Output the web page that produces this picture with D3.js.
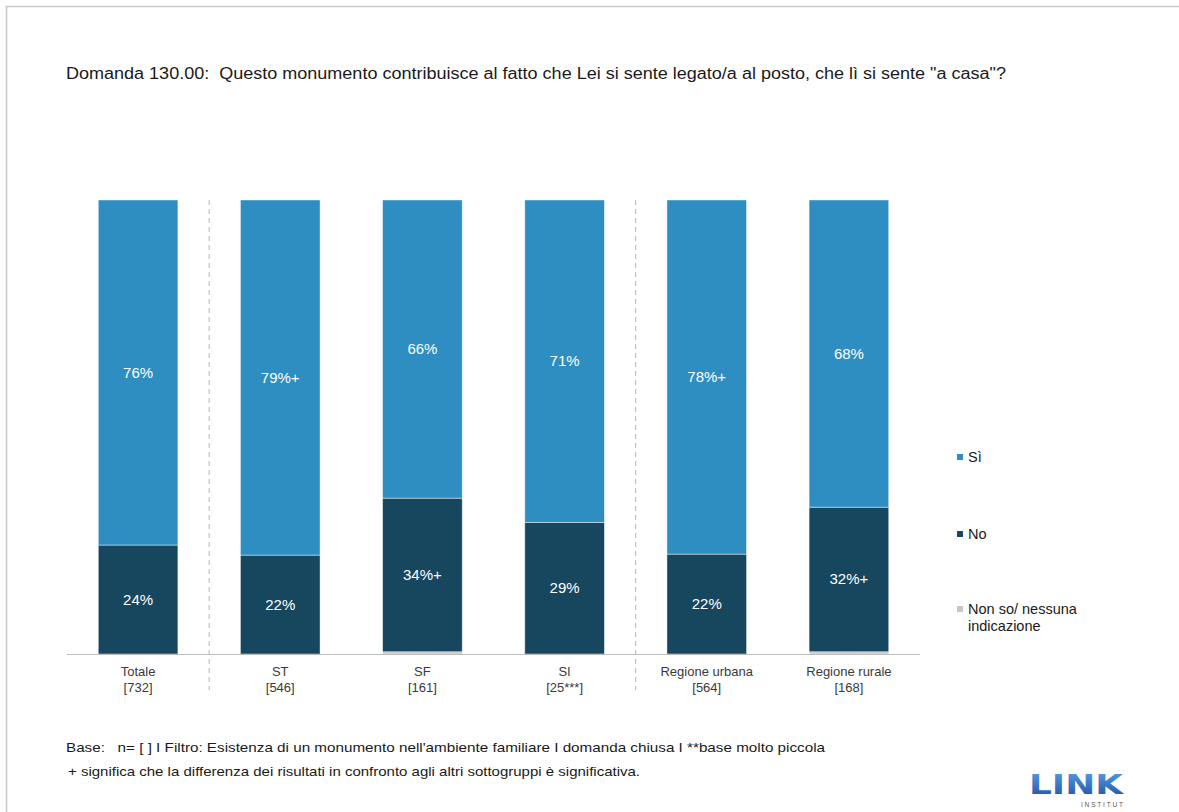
<!DOCTYPE html>
<html>
<head>
<meta charset="utf-8">
<script src="https://cdn.jsdelivr.net/npm/d3@7/dist/d3.min.js"></script>
<style>
  html, body { margin: 0; padding: 0; background: #fff; }
  svg { display: block; font-family: "Liberation Sans", Arial, sans-serif; }
</style>
</head>
<body>
<svg id="chart" width="1179" height="812"></svg>
<script>
// Groups and sample sizes
const groups = ["Totale", "ST", "SF", "SI", "Regione urbana", "Regione rurale"];
const bases = ["[732]", "[546]", "[161]", "[25***]", "[564]", "[168]"];

// Shares in percent per answer
const valuesSi = [76, 79, 66, 71, 78, 68];
const valuesNo = [24, 22, 34, 29, 22, 32];
const valuesNonSo = [0, 0, 0.5, 0, 0, 0.5];

// Significance markers shown after the percentage
const sigSi = ["", "+", "", "", "+", ""];
const sigNo = ["", "", "+", "", "", "+"];

const seriesNames = ["Sì", "No", "Non so/ nessuna indicazione"];

const colors = { nonso: "#c6c6c6", no: "#17465f", si: "#2e8dc1" };

const rows = groups.map((g, i) => ({
  group: g, base: bases[i],
  nonso: valuesNonSo[i], no: valuesNo[i], si: valuesSi[i],
  sig: { si: sigSi[i], no: sigNo[i] }
}));

const svg = d3.select("#chart");

// Frame
svg.append("path")
  .attr("d", "M6.5,812 V6.5 H1179")
  .attr("fill", "none").attr("stroke", "#c9c9c9").attr("stroke-width", 1.6);

// Title
svg.append("text")
  .attr("x", 66).attr("y", 79)
  .attr("font-size", 16).attr("fill", "#1a1a1a")
  .attr("xml:space", "preserve")
  .attr("textLength", 940).attr("lengthAdjust", "spacingAndGlyphs")
  .text("Domanda 130.00:  Questo monumento contribuisce al fatto che Lei si sente legato/a al posto, che lì si sente \"a casa\"?");

// Scales
const x = d3.scaleBand().domain(groups).range([67, 920]).paddingInner(0.44).paddingOuter(0.22);
const y = d3.scaleLinear().domain([0, 1]).range([654, 200]);

// Stack bottom to top: Non so, No, Sì — normalised per bar
const stack = d3.stack().keys(["nonso", "no", "si"]).offset(d3.stackOffsetExpand);
const layers = stack(rows);

const g = svg.append("g");
layers.forEach(layer => {
  g.selectAll(null).data(layer).enter().append("rect")
    .attr("x", d => x(d.data.group))
    .attr("width", x.bandwidth())
    .attr("y", d => y(d[1]))
    .attr("height", d => Math.max(0, y(d[0]) - y(d[1])))
    .attr("fill", colors[layer.key])
    .attr("stroke", "#ffffff").attr("stroke-opacity", 0.55).attr("stroke-width", 0.8);
});

// Value labels in the Sì and No segments
["si", "no"].forEach(key => {
  const layer = layers.find(l => l.key === key);
  g.selectAll(null).data(layer).enter().append("text")
    .attr("x", d => x(d.data.group) + x.bandwidth() / 2)
    .attr("y", d => (y(d[0]) + y(d[1])) / 2 + 5)
    .attr("text-anchor", "middle")
    .attr("font-size", 15).attr("fill", "#ffffff")
    .text(d => d.data[key] + "%" + d.data.sig[key]);
});

// Axis baseline
svg.append("line")
  .attr("x1", 67).attr("x2", 920).attr("y1", 654.5).attr("y2", 654.5)
  .attr("stroke", "#bdbdbd").attr("stroke-width", 1.2);

// Dashed separators between blocks of groups
const sepAfter = ["Totale", "SI"];
sepAfter.forEach(gname => {
  const i = groups.indexOf(gname);
  const xs = (x(groups[i]) + x.bandwidth() + x(groups[i + 1])) / 2;
  svg.append("line")
    .attr("x1", xs).attr("x2", xs).attr("y1", 200).attr("y2", 690)
    .attr("stroke", "#b5b5b5").attr("stroke-width", 1).attr("stroke-dasharray", "5,4");
});

// Category labels
const axisG = svg.append("g");
rows.forEach(r => {
  const cx = x(r.group) + x.bandwidth() / 2;
  const t = axisG.append("text")
    .attr("x", cx).attr("y", 676)
    .attr("text-anchor", "middle").attr("font-size", 13).attr("fill", "#3a3a3a");
  t.append("tspan").attr("x", cx).text(r.group);
  t.append("tspan").attr("x", cx).attr("dy", 16).text(r.base);
});

// Legend
const legendY = [462, 539, 614];
const legendKeys = ["si", "no", "nonso"];
legendKeys.forEach((k, i) => {
  svg.append("rect")
    .attr("x", 957).attr("y", legendY[i] - 8).attr("width", 6).attr("height", 6)
    .attr("fill", colors[k]);
  const t = svg.append("text")
    .attr("x", 968).attr("y", legendY[i])
    .attr("font-size", 14.5).attr("fill", "#1a1a1a");
  if (k === "nonso") {
    t.append("tspan").attr("x", 968).text("Non so/ nessuna");
    t.append("tspan").attr("x", 968).attr("dy", 17).text("indicazione");
  } else {
    t.text(seriesNames[i]);
  }
});

// Footnotes
svg.append("text")
  .attr("x", 66).attr("y", 752).attr("font-size", 13).attr("fill", "#1a1a1a")
  .attr("xml:space", "preserve")
  .attr("textLength", 759).attr("lengthAdjust", "spacingAndGlyphs")
  .text("Base:   n= [ ] I Filtro: Esistenza di un monumento nell'ambiente familiare I domanda chiusa I **base molto piccola");
svg.append("text")
  .attr("x", 68).attr("y", 776).attr("font-size", 13).attr("fill", "#1a1a1a")
  .attr("textLength", 572).attr("lengthAdjust", "spacingAndGlyphs")
  .text("+ significa che la differenza dei risultati in confronto agli altri sottogruppi è significativa.");

// Logo
const defs = svg.append("defs");
const grad = defs.append("linearGradient").attr("id", "logoGrad")
  .attr("x1", 0).attr("y1", 0).attr("x2", 0).attr("y2", 1);
grad.append("stop").attr("offset", "0%").attr("stop-color", "#5aa0e6");
grad.append("stop").attr("offset", "100%").attr("stop-color", "#1d4fa3");
svg.append("text")
  .attr("x", 1029).attr("y", 794)
  .attr("font-size", 27).attr("font-weight", 900)
  .attr("font-family", "'DejaVu Sans', sans-serif")
  .attr("textLength", 94).attr("lengthAdjust", "spacingAndGlyphs")
  .attr("fill", "url(#logoGrad)")
  .text("LINK");
svg.append("text")
  .attr("x", 1081).attr("y", 807)
  .attr("font-size", 6.5).attr("fill", "#555")
  .attr("textLength", 42).attr("lengthAdjust", "spacing")
  .text("INSTITUT");
</script>
</body>
</html>
